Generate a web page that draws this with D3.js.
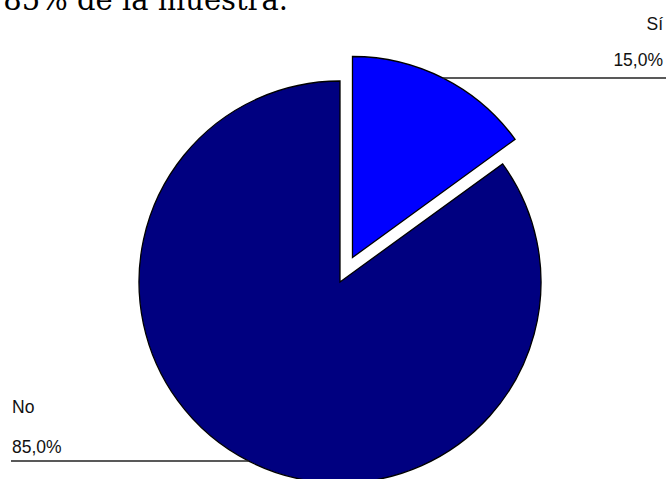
<!DOCTYPE html>
<html>
<head>
<meta charset="utf-8">
<script src="https://cdn.jsdelivr.net/npm/d3@7"></script>
<style>
  html, body { margin: 0; padding: 0; background: #fff; }
  svg { display: block; }
</style>
</head>
<body>
<svg id="chart" width="666" height="479"></svg>
<script>
// Respuestas
const categories = ["Sí", "No"];
const values = [15.0, 85.0];
const valueLabels = ["15,0%", "85,0%"];
const colors = ["#0000FF", "#000080"];

const svg = d3.select("#chart");
const W = 666, H = 479;
const cx = 340, cy = 282, R = 201;
const explode = [27.5, 0];

// Closing line of the paragraph above the chart
svg.append("text")
  .attr("x", 288).attr("y", 10)
  .attr("text-anchor", "end")
  .attr("font-family", "'DejaVu Serif', 'Liberation Serif', serif")
  .attr("font-size", 29)
  .attr("fill", "#000")
  .text("85% de la muestra.");

const pie = d3.pie().sort(null).value(d => d)(values);
const arc = d3.arc().innerRadius(0).outerRadius(R);

const g = svg.append("g").attr("transform", `translate(${cx},${cy})`);

const offsets = pie.map((p, i) => {
  const mid = (p.startAngle + p.endAngle) / 2;
  return [Math.sin(mid) * explode[i], -Math.cos(mid) * explode[i]];
});

g.selectAll("path.slice")
  .data(pie)
  .join("path")
  .attr("class", "slice")
  .attr("transform", (d, i) => `translate(${offsets[i][0]},${offsets[i][1]})`)
  .attr("d", arc)
  .attr("fill", (d, i) => colors[i])
  .attr("stroke", "#000")
  .attr("stroke-width", 1.3)
  .attr("stroke-linejoin", "miter");

// Leader lines and labels
const labelLayout = [
  { lineY: 78, side: "right", textX: 663, nameY: 30, valY: 66 },
  { lineY: 461, side: "left", textX: 12, nameY: 413, valY: 453 }
];

labelLayout.forEach((L, i) => {
  const ox = cx + offsets[i][0], oy = cy + offsets[i][1];
  const dy = L.lineY - oy;
  const dx = Math.sqrt(Math.max(0, R * R - dy * dy));
  const edgeX = L.side === "right" ? ox + dx : ox - dx;
  const x1 = L.side === "right" ? edgeX : 11;
  const x2 = L.side === "right" ? W : edgeX;
  svg.append("line")
    .attr("x1", x1).attr("x2", x2)
    .attr("y1", L.lineY).attr("y2", L.lineY)
    .attr("stroke", "#222").attr("stroke-width", 1.5);
  const anchor = L.side === "right" ? "end" : "start";
  svg.append("text")
    .attr("x", L.textX).attr("y", L.nameY)
    .attr("text-anchor", anchor)
    .attr("font-family", "'Liberation Sans', Arial, sans-serif")
    .attr("font-size", 17.5)
    .attr("fill", "#111")
    .text(categories[i]);
  svg.append("text")
    .attr("x", L.textX).attr("y", L.valY)
    .attr("text-anchor", anchor)
    .attr("font-family", "'Liberation Sans', Arial, sans-serif")
    .attr("font-size", 17.5)
    .attr("fill", "#111")
    .text(valueLabels[i]);
});
</script>
</body>
</html>
